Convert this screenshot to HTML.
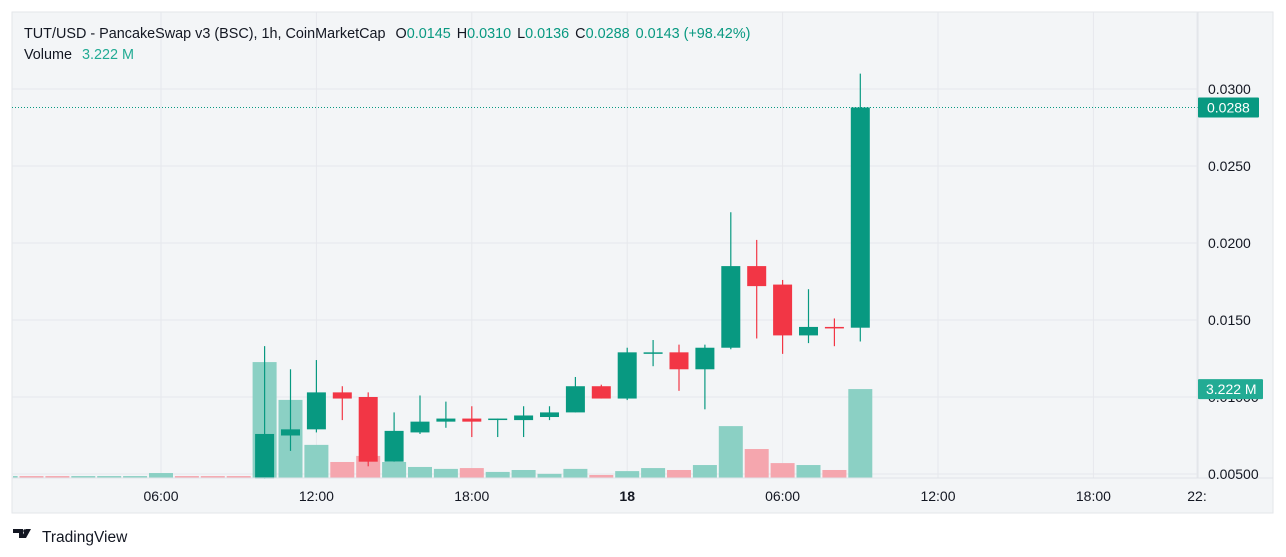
<!DOCTYPE html>
<html><head><meta charset="utf-8"><style>
html,body{margin:0;padding:0;background:#fff;width:1286px;height:557px;overflow:hidden}
svg{display:block;font-family:"Liberation Sans","DejaVu Sans",sans-serif}
</style></head><body>
<svg id="chart" width="1286" height="557" viewBox="0 0 1286 557">
<rect x="12" y="12" width="1261" height="501" fill="#f3f5f7" stroke="#e3e6ea"/>
<g id="grid"></g>
<g id="vol"></g>
<g id="candles"></g>
<line x1="1198" y1="12" x2="1198" y2="478" stroke="#e0e3e8"/>
<line x1="12" y1="478" x2="1273" y2="478" stroke="#e0e3e8"/>
<g id="yaxis" font-size="14" fill="#131722"></g>
<g id="xaxis" font-size="14" fill="#131722"></g>
<text x="24" y="38" font-size="14.4" fill="#131722">TUT/USD - PancakeSwap v3 (BSC), 1h, CoinMarketCap <tspan dx="6">O</tspan><tspan fill="#089981">0.0145</tspan><tspan dx="6">H</tspan><tspan fill="#089981">0.0310</tspan><tspan dx="6">L</tspan><tspan fill="#089981">0.0136</tspan><tspan dx="6">C</tspan><tspan fill="#089981">0.0288</tspan><tspan dx="6" fill="#089981">0.0143 (+98.42%)</tspan></text>
<text x="24" y="59" font-size="14.4" fill="#131722">Volume <tspan dx="6" fill="#22ab94">3.222 M</tspan></text>
<g>
<path d="M13 529h10v9h-4v-5h-6z M26 529h5l-5 9h-5z" fill="#131722"/>
<circle cx="25" cy="531" r="1.8" fill="#131722"/>
<text x="42" y="542" font-size="15.5" fill="#131722">TradingView</text>
</g>
</svg>
<script>
const hours=[10,11,12,13,14,15,16,17,18,19,20,21,22,23,24,25,26,27,28,29,30,31,32,33];
const opens=[0.0047,0.0075,0.0079,0.0103,0.0100,0.0058,0.0077,0.0084,0.0086,0.0086,0.0085,0.0087,0.0090,0.0107,0.0099,0.0129,0.0129,0.0118,0.0132,0.0185,0.0173,0.0140,0.01455,0.0145];
const highs=[0.0133,0.0118,0.0124,0.0107,0.0103,0.0090,0.0101,0.0097,0.0094,0.0086,0.0094,0.0094,0.0113,0.0108,0.0132,0.0137,0.0134,0.0134,0.0220,0.0202,0.0176,0.0170,0.0151,0.0310];
const lows=[0.0047,0.0065,0.0077,0.0085,0.0055,0.0058,0.0076,0.0080,0.0074,0.0074,0.0074,0.0085,0.0090,0.0099,0.0098,0.0120,0.0104,0.0092,0.0131,0.0138,0.0128,0.0135,0.0133,0.0136];
const closes=[0.0076,0.0079,0.0103,0.0099,0.0058,0.0078,0.0084,0.0086,0.0084,0.0086,0.0088,0.0090,0.0107,0.0099,0.0129,0.0129,0.0118,0.0132,0.0185,0.0172,0.0140,0.01455,0.0145,0.0288];
const volHours=[0,1,2,3,4,5,6,7,8,9,10,11,12,13,14,15,16,17,18,19,20,21,22,23,24,25,26,27,28,29,30,31,32,33];
const volumes=[0.07,0.07,0.07,0.07,0.07,0.07,0.18,0.07,0.07,0.07,4.2,2.83,1.2,0.58,0.8,0.58,0.4,0.33,0.36,0.22,0.29,0.15,0.33,0.11,0.25,0.36,0.29,0.47,1.88,1.05,0.54,0.47,0.29,3.222];
const volUp=[1,0,0,1,1,1,1,0,0,0,1,1,1,0,0,1,1,1,0,1,1,1,1,0,1,1,0,1,1,0,0,1,0,1];
const priceTicks=[0.0300,0.0250,0.0200,0.0150,0.0100,0.0050];
const priceTickLabels=["0.0300","0.0250","0.0200","0.0150","0.01000","0.00500"];
const timeTicks=[6,12,18,24,30,36,42,46];
const timeTickLabels=["06:00","12:00","18:00","18","06:00","12:00","18:00","22:"];
const lastPrice=0.0288, lastVolume=3.222;

const NS="http://www.w3.org/2000/svg";
const X=h=>161+(h-6)*25.9;
const Y=p=>89+(0.03-p)*15400;
const VY=v=>478-v*27.6;
function mk(tag,parent,attrs){const e=document.createElementNS(NS,tag);for(const k in attrs)e.setAttribute(k,attrs[k]);parent.appendChild(e);return e;}
const grid=document.getElementById('grid'),vol=document.getElementById('vol'),cg=document.getElementById('candles'),ya=document.getElementById('yaxis'),xa=document.getElementById('xaxis');
priceTicks.forEach((p,i)=>{
  const l=mk('line',grid,{x1:12,x2:1198,y1:Y(p),y2:Y(p),stroke:'#e6e8ec'});
  
  
  const t=mk('text',ya,{x:1208,y:Y(p)+5});
  t.textContent=priceTickLabels[i];
  
  
});
timeTicks.forEach((h,i)=>{
  const l=mk('line',grid,{x1:X(h),x2:X(h),y1:12,y2:478,stroke:'#e6e8ec'});
  
  
  const t=mk('text',xa,{x:X(h),y:501,'text-anchor':'middle','font-weight':timeTickLabels[i]==='18'?'bold':'normal'});
  t.textContent=timeTickLabels[i];
  
  
});
volHours.forEach((h,i)=>{
  let x0=X(h)-12,x1=X(h)+12;if(x0<13)x0=13;
  const r=mk('rect',vol,{x:x0,y:VY(volumes[i]),width:x1-x0,height:478-VY(volumes[i]),fill:volUp[i]?'#8bd0c4':'#f5a6ae'});
  
  
});
hours.forEach((h,i)=>{
  const up=closes[i]>=opens[i];const c=up?'#089981':'#f23645';
  const g=mk('g',cg,{});
  
  
  mk('line',g,{x1:X(h),x2:X(h),y1:Y(highs[i]),y2:Y(lows[i]),stroke:c,'stroke-width':1.2});
  const top=Y(Math.max(opens[i],closes[i])),bot=Y(Math.min(opens[i],closes[i]));
  mk('rect',g,{x:X(h)-9.5,y:top,width:19,height:Math.max(bot-top,1.5),fill:c});
});
const ly=Y(lastPrice);
const pl=mk('line',cg,{x1:12,x2:1198,y1:ly,y2:ly,stroke:'#089981','stroke-dasharray':'1 2'});


const pb=mk('g',ya,{});


mk('rect',pb,{x:1198,y:ly-10,width:61,height:20,fill:'#089981',rx:1});
mk('text',pb,{x:1207,y:ly+5,fill:'#fff','font-size':14}).textContent=lastPrice.toFixed(4);
const vy=VY(lastVolume);
const vb=mk('g',ya,{});


mk('rect',vb,{x:1198,y:vy-10,width:65,height:20,fill:'#22ab94',rx:1});
mk('text',vb,{x:1206,y:vy+5,fill:'#fff','font-size':14}).textContent=lastVolume.toFixed(3)+' M';
</script>
</body></html>
